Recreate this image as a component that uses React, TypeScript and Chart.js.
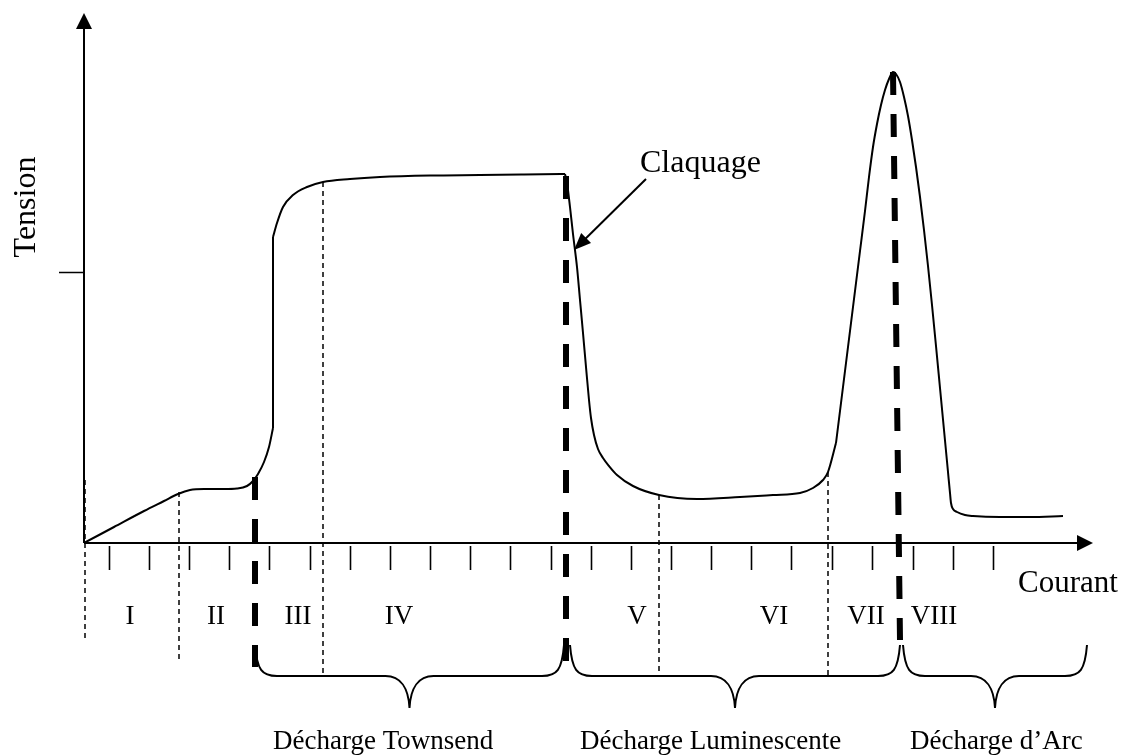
import React, { useEffect, useRef } from "react";
import { Chart, registerables } from "chart.js";

Chart.register(...registerables);

// ---- Data (arbitrary units: courant along x, tension along y) ----
const townsendRise: [number, number][] = [
  [0, 0], [30, 16], [60, 32], [80, 42], [94, 49], [106, 53], [120, 54], [140, 54],
  [153, 54.5], [163, 57], [169, 62], [174, 69], [180, 81], [185, 96], [189, 115],
];
const townsendJump: [number, number][] = [
  [189, 115], [189, 306],
];
const townsendPlateau: [number, number][] = [
  [189, 306], [193, 320], [199, 336], [209, 348],
  [223, 356], [239, 361], [266, 364], [296, 366], [346, 367.5], [396, 368], [440, 368.5], [481, 369],
];
const glowRegion: [number, number][] = [
  [481, 369], [483, 360], [486, 336], [489, 309], [493, 276], [496, 243], [499, 210],
  [502, 176], [505, 143], [507, 125], [510, 108], [514, 94], [519, 85], [525, 77], [533, 68],
  [549, 57], [575, 48], [613, 44], [656, 46], [689, 48], [716, 50], [729, 55],
  [739, 63], [744, 71], [752, 100],
];
const arcRegion: [number, number][] = [
  [752, 100], [758, 148], [764, 196], [770, 244], [776, 292], [781, 332], [785, 366],
  [789, 396], [793, 419], [797, 438], [801, 453], [805, 464], [809, 471],
  [812, 469], [816, 461], [820, 446], [824, 427], [828, 403], [832, 376], [836, 346],
  [840, 313], [844, 277], [848, 238], [852, 197], [856, 155], [860, 113], [864, 71],
  [866, 50], [867, 40], [869, 34], [873, 31], [881, 28], [889, 27], [916, 26], [946, 26], [979, 27],
];

const xAxisTicks = [25, 65, 105, 145, 185, 226, 266, 306, 346, 386, 426, 467, 507, 547, 587, 627, 667, 707, 748, 788, 829, 869, 909];
const yAxisTicks = [271];

const regionLabels = ["I", "II", "III", "IV", "V", "VI", "VII", "VIII"];
const regionLabelX = [46, 132, 214, 315, 553, 690, 782, 850];

// thin dashed region dividers: x, top of line (on curve)
const thinDividerX = [1, 95, 239, 575, 744];
const thinDividerTop = [63, 51, 361, 48, 71];

// thick dashed transitions: x at top, x at bottom, top value
const thickDividerXTop = [171, 482, 809];
const thickDividerXBottom = [171, 482, 816];
const thickDividerTop = [66, 367, 471];

const phaseLabels = ["Décharge Townsend", "Décharge Luminescente", "Décharge d’Arc"];
const phaseLabelX = [189, 496, 826];
const phaseStart = [171, 486, 819];
const phaseEnd = [480, 816, 1003];

const breakdownLabel = "Claquage";
const breakdownFrom: [number, number] = [562, 364];
const breakdownTo: [number, number] = [490, 293];

const X_MAX = 1009;
const Y_MAX = 530;

const FONT = '"Liberation Serif", "Times New Roman", serif';

const toPts = (a: [number, number][]) => a.map(([x, y]) => ({ x, y }));

const annotations = {
  id: "schematicAnnotations",
  afterDraw(chart: any) {
    const ctx: CanvasRenderingContext2D = chart.ctx;
    const xs = chart.scales.x;
    const ys = chart.scales.y;
    const X = (v: number) => xs.getPixelForValue(v);
    const Y = (v: number) => ys.getPixelForValue(v);
    const x0 = X(0);
    const y0 = Y(0);
    const xTip = X(X_MAX);
    const yTip = Y(Y_MAX);

    ctx.save();
    ctx.strokeStyle = "#000";
    ctx.fillStyle = "#000";
    ctx.lineCap = "butt";

    // axes
    ctx.lineWidth = 2;
    ctx.beginPath();
    ctx.moveTo(x0, y0);
    ctx.lineTo(x0, yTip + 14);
    ctx.moveTo(x0, y0);
    ctx.lineTo(xTip - 14, y0);
    ctx.stroke();
    // arrowheads
    ctx.beginPath();
    ctx.moveTo(x0, yTip);
    ctx.lineTo(x0 - 8, yTip + 16);
    ctx.lineTo(x0 + 8, yTip + 16);
    ctx.closePath();
    ctx.fill();
    ctx.beginPath();
    ctx.moveTo(xTip, y0);
    ctx.lineTo(xTip - 16, y0 - 8);
    ctx.lineTo(xTip - 16, y0 + 8);
    ctx.closePath();
    ctx.fill();

    // x ticks
    ctx.lineWidth = 1.6;
    ctx.beginPath();
    xAxisTicks.forEach((v) => {
      const px = Math.round(X(v)) + 0.5;
      ctx.moveTo(px, y0 + 3);
      ctx.lineTo(px, y0 + 27);
    });
    // y tick
    yAxisTicks.forEach((v) => {
      const py = Math.round(Y(v)) + 0.5;
      ctx.moveTo(x0 - 25, py);
      ctx.lineTo(x0, py);
    });
    ctx.stroke();

    // thin dashed dividers
    const thinBottoms = [99, 117, 133, 133, 133];
    ctx.lineWidth = 1.5;
    ctx.setLineDash([5, 4]);
    thinDividerX.forEach((v, i) => {
      ctx.beginPath();
      ctx.moveTo(X(v), Y(thinDividerTop[i]));
      ctx.lineTo(X(v), y0 + thinBottoms[i]);
      ctx.stroke();
    });

    // thick dashed transitions
    const thickBottoms = [124, 124, 97];
    ctx.lineWidth = 6;
    ctx.setLineDash([23, 19]);
    thickDividerXTop.forEach((v, i) => {
      ctx.beginPath();
      ctx.moveTo(X(v), Y(thickDividerTop[i]));
      ctx.lineTo(X(thickDividerXBottom[i]), y0 + thickBottoms[i]);
      ctx.stroke();
    });
    ctx.setLineDash([]);

    // braces
    ctx.lineWidth = 2;
    const yTop = y0 + 102;
    const yMid = y0 + 133;
    const yCusp = y0 + 165;
    phaseStart.forEach((s, i) => {
      const a = X(s);
      const b = X(phaseEnd[i]);
      const c = (a + b) / 2;
      ctx.beginPath();
      ctx.moveTo(a, yTop);
      ctx.bezierCurveTo(a + 2, yMid - 6, a + 7, yMid, a + 22, yMid);
      ctx.lineTo(c - 24, yMid);
      ctx.bezierCurveTo(c - 9, yMid, c - 1, yMid + 12, c, yCusp);
      ctx.bezierCurveTo(c + 1, yMid + 12, c + 9, yMid, c + 24, yMid);
      ctx.lineTo(b - 22, yMid);
      ctx.bezierCurveTo(b - 7, yMid, b - 2, yMid - 6, b, yTop);
      ctx.stroke();
    });

    // breakdown arrow
    const ax0 = X(breakdownFrom[0]);
    const ay0 = Y(breakdownFrom[1]);
    const ax1 = X(breakdownTo[0]);
    const ay1 = Y(breakdownTo[1]);
    const ang = Math.atan2(ay1 - ay0, ax1 - ax0);
    const head = 17;
    const hw = 7;
    ctx.lineWidth = 2;
    ctx.beginPath();
    ctx.moveTo(ax0, ay0);
    ctx.lineTo(ax1 - Math.cos(ang) * (head - 2), ay1 - Math.sin(ang) * (head - 2));
    ctx.stroke();
    ctx.beginPath();
    ctx.moveTo(ax1, ay1);
    ctx.lineTo(
      ax1 - Math.cos(ang) * head + Math.sin(ang) * hw,
      ay1 - Math.sin(ang) * head - Math.cos(ang) * hw
    );
    ctx.lineTo(
      ax1 - Math.cos(ang) * head - Math.sin(ang) * hw,
      ay1 - Math.sin(ang) * head + Math.cos(ang) * hw
    );
    ctx.closePath();
    ctx.fill();

    // texts
    ctx.textBaseline = "alphabetic";
    ctx.font = `32px ${FONT}`;
    ctx.textAlign = "left";
    ctx.fillText(breakdownLabel, ax0 - 6, ay0 - 7);

    ctx.font = `31px ${FONT}`;
    ctx.fillText("Courant", xTip - 75, y0 + 49);

    ctx.save();
    ctx.font = `32px ${FONT}`;
    ctx.translate(x0 - 49, Y(336));
    ctx.rotate(-Math.PI / 2);
    ctx.textAlign = "center";
    ctx.fillText("Tension", 0, 0);
    ctx.restore();

    ctx.font = `27px ${FONT}`;
    ctx.textAlign = "center";
    regionLabels.forEach((t, i) => {
      ctx.fillText(t, X(regionLabelX[i]), y0 + 81);
    });

    ctx.textAlign = "left";
    phaseLabels.forEach((t, i) => {
      ctx.fillText(t, X(phaseLabelX[i]), y0 + 206);
    });

    ctx.restore();
  },
};

export default function App() {
  const ref = useRef<HTMLCanvasElement | null>(null);

  useEffect(() => {
    if (!ref.current) return;
    const ds = (d: [number, number][], smooth: boolean) => ({
      data: toPts(d),
      showLine: true,
      borderColor: "#000",
      borderWidth: 2,
      pointRadius: 0,
      tension: smooth ? 0.4 : 0,
      cubicInterpolationMode: smooth ? "monotone" : "default",
      borderJoinStyle: "round",
      fill: false,
    });
    const chart = new Chart(ref.current, {
      type: "scatter",
      data: {
        datasets: [
          ds(townsendRise, true),
          ds(townsendJump, false),
          ds(townsendPlateau, true),
          ds(glowRegion, true),
          ds(arcRegion, true),
        ] as any,
      },
      options: {
        responsive: false,
        animation: false,
        events: [],
        layout: { padding: { left: 84, right: 35, top: 13, bottom: 213 } },
        scales: {
          x: { type: "linear", min: 0, max: X_MAX, display: false },
          y: { type: "linear", min: 0, max: Y_MAX, display: false },
        },
        plugins: {
          legend: { display: false },
          tooltip: { enabled: false },
          title: { display: false },
        },
      },
      plugins: [annotations],
    });
    return () => chart.destroy();
  }, []);

  return (
    <div style={{ position: "absolute", left: 0, top: 0, width: 1128, height: 756, background: "#fff" }}>
      <canvas ref={ref} width={1128} height={756} style={{ display: "block", width: 1128, height: 756 }} />
    </div>
  );
}
